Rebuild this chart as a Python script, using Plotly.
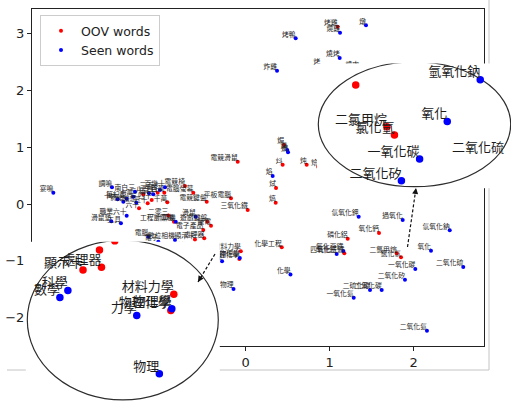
import plotly.graph_objects as go

W, H = 511, 403

# ---------------- data ----------------
oov_words = ["烤雞", "焗", "炓", "炖", "燴", "烒", "熇", "電競滑鼠", "平板電腦", "三氧化鐵",
             "電競鍵盤", "電腦螢幕", "電競椅", "百萬", "千萬", "二十", "三百", "四十", "五十", "六十",
             "二零三", "工程計算機", "遊戲鍵盤", "筆電", "電子產品", "處理器", "顯示卡", "材料力學",
             "物理化學", "化學工程", "氧化鈣", "磷化鋁", "四氧化三鐵", "二氯甲烷", "氯化氫"]
oov_x = [1.095, 0.456, 0.440, 0.726, 0.861, 0.361, 0.357, -0.095, -0.175, 0.024,
         -0.464, -0.624, -0.723, -0.969, -0.933, -1.219, -1.048, -1.119, -1.167, -1.270,
         -0.921, -0.854, -0.457, -0.413, -0.505, -0.493, -0.604, -0.058,
         -0.076, 0.429, 1.587, 1.214, 1.174, 1.798, 1.849]
oov_y = [3.127, 1.041, 0.693, 0.693, 0.658, 0.282, 0.023, 0.746, 0.101, -0.106,
         0.041, 0.199, 0.317, 0.199, 0.030, 0.171, 0.199, 0.071, 0.012, -0.076,
         -0.203, -0.312, -0.312, -0.383, -0.459, -0.605, -0.628, -0.831,
         -0.968, -0.764, -0.511, -0.612, -0.870, -0.870, -0.940]

seen_words = ["燒雞", "燉", "烤鴨", "燒烤", "烤", "燒肉", "炸雞", "煸", "燜", "焰",
              "宴鳴", "調鳴", "百幾十", "三百二", "五百", "八百", "南白三", "十萬", "筆記型", "情緒",
              "十六", "聯想", "職業六十", "工具", "滑鼠墊", "計算機", "電腦", "電子", "數位相機", "滑鼠",
              "科學", "數學", "力學", "物理學", "物理", "化學", "氫氧化鉀", "過氧化", "氫氧化鈉", "氧化鐵",
              "氧化亞鐵", "氧化", "一氧化碳", "二氧化硫", "二氧化矽", "二硫化碳", "二氧化碳", "一氧化氮", "二氧化氮"]
seen_x = [1.123, 1.432, 0.595, 1.119, 0.888, 1.349, 0.373, 0.495, 0.504, 0.321,
          -2.290, -1.592, -0.961, -1.020, -1.100, -1.151, -1.318, -1.338, -1.417, -1.457,
          -1.524, -1.302, -1.417, -1.485, -1.600, -0.833, -1.160, -1.040, -0.842, -0.595,
          -0.695, -0.743, -0.281, -0.070, -0.145, 0.533, 1.345, 1.869, 2.429, 1.083,
          1.162, 2.206, 2.019, 2.590, 1.896, 1.480, 1.619, 1.286, 2.158]
seen_y = [3.021, 3.152, 2.922, 2.575, 2.439, 2.381, 2.351, 0.952, 0.912, 0.494,
          0.199, 0.295, 0.295, 0.247, 0.171, 0.189, 0.217, 0.129, 0.093, 0.041,
          0.083, 0.023, -0.206, -0.340, -0.305, -0.312, -0.577, -0.665, -0.635, -0.224,
          -0.799, -0.859, -1.009, -0.954, -1.499, -1.243, -0.224, -0.282, -0.464, -0.882,
          -0.829, -0.824, -1.146, -1.111, -1.335, -1.517, -1.517, -1.653, -2.235]

x_ticks = [-2, -1, 0, 1, 2]
y_ticks = [-2, -1, 0, 1, 2, 3]

# zoomed regions (data ranges) shown in the two elliptical insets
zoom_a_x = [1.334, 2.635]
zoom_a_y = [-1.385, -0.312]
zoom_b_x = [-0.939, 0.2095]
zoom_b_y = [-1.719, -0.378]

# ---------------- layout geometry (pixels) ----------------
MAIN_BOX = (32, 9, 484, 346)            # left, top, right, bottom
MAIN_XR = [-2.544, 2.837]
MAIN_YR = [-2.504, 3.439]
BOX_A = (318.3, 65.0, 510.7, 186.7)
BOX_B = (27.3, 243.3, 218.3, 400.0)

CJK = "Noto Sans CJK TC, Noto Sans CJK SC, sans-serif"
TXT = "#1c1c1c"


def dom(box):
    l, t, r, b = box
    return [l / W, r / W], [1 - b / H, 1 - t / H]


def inset_axes(box, xr, yr, pad=1.5):
    l, t, r, b = box
    kx = (r - l) / (xr[1] - xr[0])
    ky = (b - t) / (yr[1] - yr[0])
    L, R = max(l - pad, 0), min(r + pad, W)
    T, B = max(t - pad, 0), min(b + pad, H)
    xr2 = [xr[0] - (l - L) / kx, xr[1] + (R - r) / kx]
    yr2 = [yr[0] - (B - b) / ky, yr[1] + (T - t) / ky]
    return [L / W, R / W], [1 - B / H, 1 - T / H], xr2, yr2, kx, ky


fig = go.Figure()

# ---------------- main scatter ----------------
fig.add_trace(go.Scatter(x=oov_x, y=oov_y, mode="markers", name="OOV words",
                         marker=dict(color="#ff0000", size=4), hoverinfo="skip"))
fig.add_trace(go.Scatter(x=seen_x, y=seen_y, mode="markers", name="Seen words",
                         marker=dict(color="#0000ff", size=4), hoverinfo="skip"))
fig.add_trace(go.Scatter(x=oov_x + seen_x, y=oov_y + seen_y, text=oov_words + seen_words,
                         mode="text", textposition="top left", showlegend=False,
                         textfont=dict(family=CJK, size=6.8, color=TXT), hoverinfo="skip"))

# ---------------- insets ----------------
shapes = []
for i, (box, xr, yr) in enumerate([(BOX_A, zoom_a_x, zoom_a_y), (BOX_B, zoom_b_x, zoom_b_y)]):
    n = i + 2
    xd, yd, xr2, yr2, kx, ky = inset_axes(box, xr, yr)
    fig.update_layout(**{
        f"xaxis{n}": dict(domain=xd, range=xr2, visible=False, anchor=f"y{n}", fixedrange=True),
        f"yaxis{n}": dict(domain=yd, range=yr2, visible=False, anchor=f"x{n}", fixedrange=True),
    })
    cx, cy = (xr[0] + xr[1]) / 2, (yr[0] + yr[1]) / 2
    rx, ry = (xr[1] - xr[0]) / 2, (yr[1] - yr[0]) / 2

    def inside(x, y):
        return ((x - cx) / rx) ** 2 + ((y - cy) / ry) ** 2 <= 1.0

    shapes.append(dict(type="circle", xref=f"x{n}", yref=f"y{n}", layer="below",
                       x0=xr[0], x1=xr[1], y0=yr[0], y1=yr[1],
                       fillcolor="white", line=dict(color="#2e2e2e", width=1.2)))
    fs, ms = 13, 7.5
    lab_x, lab_y, lab_t = [], [], []
    for words, xs, ys, col in [(oov_words, oov_x, oov_y, "#ff0000"),
                               (seen_words, seen_x, seen_y, "#0000ff")]:
        mx = [x for x, y in zip(xs, ys) if inside(x, y)]
        my = [y for x, y in zip(xs, ys) if inside(x, y)]
        fig.add_trace(go.Scatter(x=mx, y=my, xaxis=f"x{n}", yaxis=f"y{n}", mode="markers",
                                 marker=dict(color=col, size=ms), showlegend=False,
                                 hoverinfo="skip"))
        for w, x, y in zip(words, xs, ys):
            if not (xr[0] <= x <= xr[1] and yr[0] <= y <= yr[1]):
                continue
            tcx = x - len(w) * fs / 2 / kx
            tcy = y + fs * 0.55 / ky
            if inside(tcx, tcy):
                lab_x.append(x)
                lab_y.append(y)
                lab_t.append(w)
    fig.add_trace(go.Scatter(x=lab_x, y=lab_y, text=lab_t, xaxis=f"x{n}", yaxis=f"y{n}",
                             mode="text", textposition="top left", showlegend=False,
                             textfont=dict(family=CJK, size=fs, color=TXT), hoverinfo="skip"))

# outer grey frame of the original figure
shapes.append(dict(type="line", xref="paper", yref="paper", layer="below",
                   x0=7 / W, x1=489 / W, y0=1 - 370 / H, y1=1 - 370 / H,
                   line=dict(color="#c4c4c4", width=1)))
shapes.append(dict(type="line", xref="paper", yref="paper", layer="below",
                   x0=489 / W, x1=489 / W, y0=1, y1=1 - 370 / H,
                   line=dict(color="#c4c4c4", width=1)))

# dashed connector arrows (tail -> head, pixels)
arrows = [((407.5, 247.0), (416.0, 188.0)), ((215.0, 254.0), (198.0, 282.0))]
annotations = []
for (tx, ty), (hx, hy) in arrows:
    shapes.append(dict(type="line", xref="paper", yref="paper", layer="above",
                       x0=tx / W, y0=1 - ty / H, x1=hx / W, y1=1 - hy / H,
                       line=dict(color="#111111", width=1.2, dash="3px,2px")))
    dx, dy = tx - hx, ty - hy
    d = (dx * dx + dy * dy) ** 0.5
    annotations.append(dict(x=hx / W, y=1 - hy / H, xref="paper", yref="paper", text="",
                            showarrow=True, ax=dx / d * 7, ay=dy / d * 7,
                            arrowhead=2, arrowsize=1, arrowwidth=1.2, arrowcolor="#111111"))

mxd, myd = dom(MAIN_BOX)
axis_common = dict(showgrid=False, zeroline=False, showline=True, mirror=True,
                   linecolor="#222222", linewidth=1, ticks="outside", ticklen=4,
                   tickwidth=1, tickcolor="#222222",
                   tickfont=dict(family="DejaVu Sans", size=13, color="#222222"),
                   fixedrange=True)

fig.update_layout(
    width=W, height=H,
    margin=dict(l=0, r=0, t=0, b=0, pad=0),
    paper_bgcolor="white", plot_bgcolor="white",
    template="none",
    hovermode=False,
    xaxis=dict(domain=mxd, range=MAIN_XR, tickvals=x_ticks, anchor="y", **axis_common),
    yaxis=dict(domain=myd, range=MAIN_YR, tickvals=y_ticks, anchor="x", **axis_common),
    showlegend=True,
    legend=dict(x=40 / W, y=1 - 15 / H, xanchor="left", yanchor="top",
                bgcolor="rgba(255,255,255,0.85)", bordercolor="#cccccc", borderwidth=1,
                font=dict(family="DejaVu Sans", size=12.5, color="#222222"),
                tracegroupgap=0),
    shapes=shapes,
    annotations=annotations,
)

fig.write_html("out.html", config={"displayModeBar": False},
               post_script="document.body.style.margin='0px';document.body.style.overflow='hidden';")
